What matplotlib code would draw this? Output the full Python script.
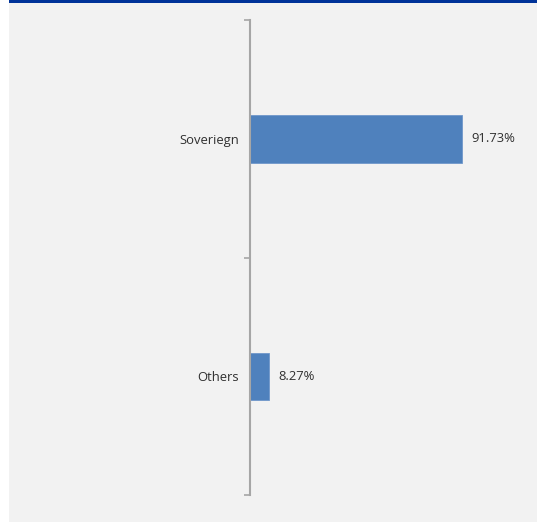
import matplotlib.pyplot as plt
from matplotlib.patches import Rectangle

categories = ["Soveriegn", "Others"]
values = [91.73, 8.27]
labels = ["91.73%", "8.27%"]

W, H = 537, 522
fig = plt.figure(figsize=(W/100, H/100), dpi=100)
fig.patch.set_facecolor("white")
# gray panel
fig.add_artist(Rectangle((9/W, 0), 1 - 9/W, 1, transform=fig.transFigure,
                         facecolor="#F2F2F2", edgecolor="none", zorder=-2))
# blue top bar
fig.add_artist(Rectangle((9/W, 1 - 3/H), 1 - 9/W, 3/H, transform=fig.transFigure,
                         facecolor="#003399", edgecolor="none", zorder=-1))

ax_left, ax_right = 250, 520
ax_top, ax_bot = 20, 495
ax = fig.add_axes([ax_left/W, 1 - ax_bot/H, (ax_right-ax_left)/W, (ax_bot-ax_top)/H])
ax.set_facecolor("none")

pos = list(range(len(categories)))
ax.barh(pos, values, height=0.2, color="#4F81BD", edgecolor="#6F97CB", linewidth=0.6)
ax.set_ylim(len(categories) - 0.5, -0.5)
xmax = (ax_right - ax_left) / (212 / 91.73)
ax.set_xlim(0, xmax)

fam = ["Open Sans", "DejaVu Sans"]
for p, v, l in zip(pos, values, labels):
    ax.annotate(l, (v, p), xytext=(6.5, 0), textcoords="offset points",
                va="center", ha="left", fontsize=9.4, color="#303030", family=fam)

ax.set_yticks([-0.5, 0.5, 1.5], minor=False)
ax.set_yticklabels([])
ax.set_yticks(pos, minor=True)
ax.set_yticklabels(categories, minor=True, fontsize=9.4, color="#303030", family=fam)
ax.tick_params(axis="y", which="major", length=4, width=1.2, color="#A6A6A6")
ax.tick_params(axis="y", which="minor", length=0, pad=8)
ax.set_xticks([])
for s in ["top", "right", "bottom"]:
    ax.spines[s].set_visible(False)
ax.spines["left"].set_color("#A6A6A6")
ax.spines["left"].set_linewidth(1.5)

fig.savefig("out.png", dpi=100)
